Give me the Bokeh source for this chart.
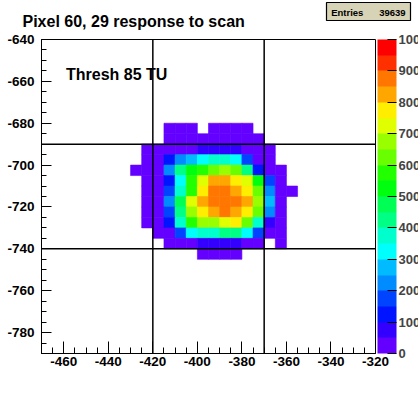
from bokeh.plotting import figure
from bokeh.models import (ColumnDataSource, LinearColorMapper, ColorBar, Span, Label, Title,
                          SingleIntervalTicker, FixedTicker, PrintfTickFormatter)
from bokeh.transform import transform
from bokeh.embed import file_html
from bokeh.resources import INLINE

# ---------------- data ----------------
title_text = "Pixel 60, 29 response to scan"
note_text = "Thresh 85 TU"
entries = 39639

bin_size = 5
x_bin_low = [-430, -425, -420, -415, -410, -405, -400, -395, -390, -385, -380, -375, -370, -365, -360]
y_bin_low = [-685, -690, -695, -700, -705, -710, -715, -720, -725, -730, -735, -740, -745]

counts = [
    [0, 0, 0, 14, 22, 9, 0, 11, 19, 24, 8, 0, 0, 0, 0],
    [0, 0, 0, 27, 35, 41, 38, 44, 40, 36, 29, 12, 0, 0, 0],
    [0, 10, 21, 33, 46, 48, 62, 81, 88, 71, 47, 31, 15, 0, 0],
    [0, 17, 30, 118, 221, 274, 318, 362, 371, 325, 176, 42, 13, 0, 0],
    [6, 23, 38, 214, 421, 513, 583, 641, 689, 628, 438, 109, 37, 9, 0],
    [0, 26, 45, 122, 329, 576, 722, 823, 846, 786, 731, 521, 171, 28, 0],
    [0, 29, 47, 168, 381, 587, 772, 869, 882, 829, 768, 634, 226, 32, 7],
    [0, 28, 46, 219, 471, 736, 818, 871, 894, 876, 812, 691, 268, 35, 0],
    [0, 25, 43, 171, 429, 688, 779, 832, 871, 825, 763, 622, 214, 31, 0],
    [0, 19, 39, 117, 377, 578, 671, 684, 735, 766, 619, 361, 83, 24, 0],
    [0, 0, 27, 44, 166, 327, 363, 372, 418, 431, 311, 177, 40, 18, 0],
    [0, 0, 0, 16, 31, 43, 68, 87, 91, 76, 38, 21, 0, 11, 0],
    [0, 0, 0, 0, 0, 0, 13, 24, 21, 9, 0, 0, 0, 0, 0],
]

pixel_edges_x = [-420, -370]
pixel_edges_y = [-690, -740]
z_ticks = [0, 100, 200, 300, 400, 500, 600, 700, 800, 900, 1000]
z_low, z_high = 0, 1000

# ROOT "pretty" palette, 20 contour levels
palette = ["#6300ff", "#3300ff", "#0014ff", "#0044ff", "#008bff", "#00bbff", "#00fffc",
           "#00ffcc", "#00ff85", "#00ff55", "#00ff0e", "#22ff00", "#69ff00", "#99ff00",
           "#e0ff00", "#ffee00", "#ffa700", "#ff7700", "#ff3000", "#ff0000"]

FONT = "Liberation Sans"
NB = "\u00a0"

# ---------------- build ----------------
left, right, bottom, top, vals = [], [], [], [], []
for yb, row in zip(y_bin_low, counts):
    for xb, v in zip(x_bin_low, row):
        if v > 0:
            left.append(xb)
            right.append(xb + bin_size)
            bottom.append(yb)
            top.append(yb + bin_size)
            vals.append(v)
src = ColumnDataSource(dict(left=left, right=right, bottom=bottom, top=top, v=vals))

mapper = LinearColorMapper(palette=palette, low=z_low, high=z_high)

p = figure(width=418, height=393, x_range=(-470, -320), y_range=(-790, -640),
           output_backend="svg", toolbar_location=None, title=None,
           min_border_left=41, min_border_right=43, min_border_top=39, min_border_bottom=40)
p.background_fill_color = "white"
p.border_fill_color = "white"
p.outline_line_color = "black"
p.outline_line_width = 1
p.xgrid.visible = False
p.ygrid.visible = False

p.quad(left="left", right="right", bottom="bottom", top="top", source=src,
       fill_color=transform("v", mapper), line_color=transform("v", mapper), line_width=0.6)

p.xaxis.ticker = SingleIntervalTicker(interval=20, num_minor_ticks=4)
p.yaxis.ticker = SingleIntervalTicker(interval=20, num_minor_ticks=4)
for ax in (p.xaxis, p.yaxis):
    ax.formatter = PrintfTickFormatter(format="%d")
    ax.axis_line_color = "black"
    ax.major_tick_out = 0
    ax.minor_tick_out = 0
    ax.major_tick_line_color = "black"
    ax.minor_tick_line_color = "black"
    ax.major_label_text_font = FONT
    ax.major_label_text_font_style = "bold"
    ax.major_label_text_font_size = "13.5px"
    ax.major_label_text_color = "black"
p.xaxis.major_tick_in = 12
p.xaxis.minor_tick_in = 6
p.yaxis.major_tick_in = 10
p.yaxis.minor_tick_in = 5
p.xaxis.major_label_standoff = 3
p.yaxis.major_label_standoff = 7

note = Label(x=-459, y=-656.6, text=note_text, text_font=FONT, text_font_style="bold",
             text_font_size="16px", text_color="black", text_baseline="alphabetic")
p.add_layout(note)

for xe in pixel_edges_x:
    p.add_layout(Span(location=xe, dimension="height", line_color="black", line_width=1.5))
for ye in pixel_edges_y:
    p.add_layout(Span(location=ye, dimension="width", line_color="black", line_width=1.5))

cb = ColorBar(color_mapper=mapper, location=(336, 0), orientation="vertical",
              width=19, height=314, padding=0, margin=0,
              ticker=FixedTicker(ticks=z_ticks), formatter=PrintfTickFormatter(format="%d"),
              major_tick_in=9, major_tick_out=0,
              major_tick_line_color="black", minor_tick_line_color=None,
              major_label_text_font=FONT, major_label_text_font_style="bold",
              major_label_text_font_size="13px", label_standoff=2,
              bar_line_color=None, border_line_color=None, background_fill_color=None)
p.add_layout(cb, "center")

# statistics box (ROOT "stats" pave): a text box drawn above the frame
stats = ColorBar(color_mapper=mapper, location=(285, 333), orientation="horizontal",
                 width=80, height=1, padding=2, margin=0, scale_alpha=0,
                 title=NB + "Entries" + NB * 6 + str(entries), title_standoff=0,
                 title_text_font=FONT, title_text_font_style="bold",
                 title_text_font_size="9.5px", title_text_color="black",
                 ticker=FixedTicker(ticks=[]), major_tick_line_color=None,
                 major_tick_in=0, label_standoff=0,
                 minor_tick_line_color=None, major_label_text_font_size="1px",
                 bar_line_color=None, background_fill_color="#d5d1b2",
                 border_line_color="black", border_line_width=1.2)
p.add_layout(stats, "center")

main_title = Title(text=title_text, align="left", offset=-19, standoff=18,
                   text_font=FONT, text_font_style="bold", text_font_size="16px",
                   text_color="black", vertical_align="middle")
p.add_layout(main_title, "above")

open("out.html", "w").write(file_html(p, INLINE))
